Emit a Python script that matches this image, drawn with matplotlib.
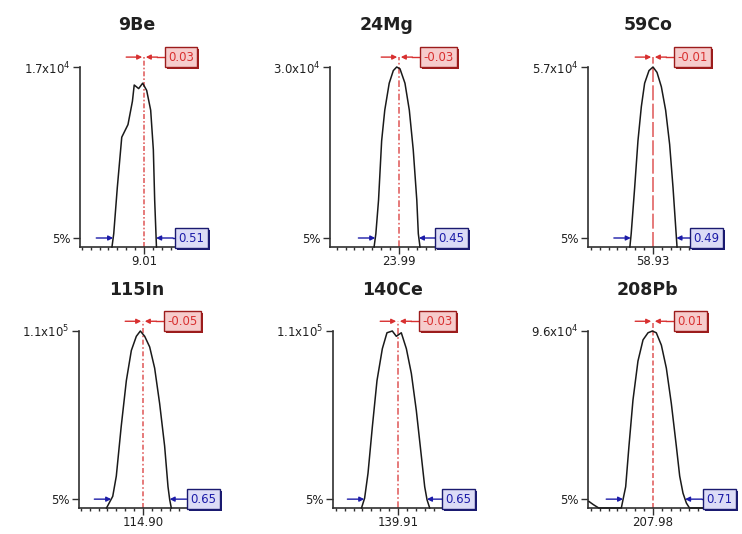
import numpy as np
import matplotlib
matplotlib.use("Agg")
import matplotlib.pyplot as plt
import matplotlib.transforms as mtransforms
from matplotlib.patches import Rectangle

plt.rcParams['font.family'] = ['DejaVu Sans']

# ---------------- data ----------------
elements = ['9Be', '24Mg', '59Co', '115In', '140Ce', '208Pb']
center_labels = ['9.01', '23.99', '58.93', '114.90', '139.91', '207.98']
ymax_values = [1.7e4, 3.0e4, 5.7e4, 1.1e5, 1.1e5, 9.6e4]
ymax_labels = [r'1.7x10$^4$', r'3.0x10$^4$', r'5.7x10$^4$',
               r'1.1x10$^5$', r'1.1x10$^5$', r'9.6x10$^4$']
shift_labels = ['0.03', '-0.03', '-0.01', '-0.05', '-0.03', '0.01']
width_labels = ['0.51', '0.45', '0.49', '0.65', '0.65', '0.71']

# peak profiles: offset from centre mass (amu), intensity as fraction of y max
be_x = [-0.36, -0.34, -0.30, -0.25, -0.18, -0.13, -0.11, -0.06, -0.015, 0.03, 0.075, 0.105, 0.12, 0.14]
be_y = [0.0, 0.074, 0.33, 0.61, 0.68, 0.81, 0.90, 0.88, 0.91, 0.87, 0.76, 0.54, 0.26, 0.0]
mg_x = [-0.28, -0.26, -0.23, -0.195, -0.16, -0.11, -0.064, -0.026, 0.011, 0.067, 0.116, 0.16, 0.20, 0.217, 0.236]
mg_y = [0.0, 0.074, 0.26, 0.59, 0.76, 0.91, 0.98, 1.0, 0.99, 0.91, 0.76, 0.54, 0.26, 0.074, 0.0]
co_x = [-0.26, -0.245, -0.206, -0.169, -0.131, -0.094, -0.045, 0.0, 0.045, 0.094, 0.142, 0.187, 0.225, 0.255, 0.27]
co_y = [0.0, 0.074, 0.33, 0.59, 0.78, 0.91, 0.98, 1.0, 0.97, 0.89, 0.76, 0.57, 0.33, 0.11, 0.0]
in_x = [-0.41, -0.34, -0.30, -0.245, -0.187, -0.131, -0.075, -0.03, 0.019, 0.075, 0.131, 0.187, 0.243, 0.281, 0.30, 0.318]
in_y = [0.0, 0.066, 0.18, 0.46, 0.72, 0.89, 0.97, 1.0, 0.97, 0.91, 0.79, 0.59, 0.35, 0.12, 0.047, 0.0]
ce_x = [-0.41, -0.375, -0.337, -0.288, -0.236, -0.176, -0.124, -0.064, -0.019, 0.037, 0.094, 0.15, 0.206, 0.251, 0.30, 0.326, 0.356]
ce_y = [0.0, 0.056, 0.196, 0.46, 0.72, 0.90, 0.99, 1.0, 0.97, 0.99, 0.90, 0.76, 0.55, 0.345, 0.12, 0.047, 0.0]
pb_x = [-0.72, -0.67, -0.61, -0.356, -0.337, -0.307, -0.27, -0.225, -0.169, -0.112, -0.056, -0.007, 0.037, 0.094, 0.15, 0.206, 0.262, 0.30, 0.337, 0.375, 0.41, 0.56]
pb_y = [0.037, 0.019, 0.0, 0.0, 0.047, 0.12, 0.35, 0.61, 0.83, 0.95, 0.99, 1.0, 0.99, 0.92, 0.79, 0.59, 0.35, 0.18, 0.084, 0.028, 0.0, 0.0]
peaks_x = [be_x, mg_x, co_x, in_x, ce_x, pb_x]
peaks_y = [be_y, mg_y, co_y, in_y, ce_y, pb_y]

# ---------------- layout (pixels) ----------------
W, H = 742, 534
PX_PER_AMU = 89.0
yaxis_px = [80, 330, 588, 79, 333, 588]
end_px = [175, 435, 690, 187, 442, 703]
center_px = [144, 399, 653, 143, 398, 653]
bottom_px = [247, 247, 247, 508, 508, 508]
top_px = [67, 67, 67, 331, 331, 331]
title_px = [(137, 25), (387, 25), (648, 25), (137, 290), (392, 290), (647, 290)]
red_styles = [(0, (3, 1.2, 1, 1.2)), (0, (4, 1.5, 1, 1.5)), (0, (9, 2)),
              (0, (3, 1.5, 1, 1.5)), (0, (4, 1.5, 1, 1.5)), (0, (3, 1.5))]

RED = '#d83030'
RED_EDGE = '#9c1c1c'
RED_FILL = '#f6cccc'
BLUE = '#1c1ca8'
BLUE_EDGE = '#1a1a70'
BLUE_FILL = '#dcdcf6'
AXC = '#303030'

fig = plt.figure(figsize=(W / 100, H / 100), dpi=100)
fig.patch.set_facecolor('white')

boxes = []


def boxed(ax, x, y, s, tc, fc, ec):
    t = ax.text(x, y, s, ha='left', va='center', fontsize=8.5, color=tc,
                clip_on=False, zorder=6,
                bbox=dict(boxstyle='square,pad=0.28', fc=fc, ec=ec, lw=1.0))
    boxes.append((ax, t, ec))


for i in range(6):
    left = yaxis_px[i] / W
    bottom = 1 - bottom_px[i] / H
    width = (end_px[i] - yaxis_px[i]) / W
    height = (bottom_px[i] - top_px[i]) / H
    ax = fig.add_axes([left, bottom, width, height])
    ax.set_facecolor('none')
    M = ymax_values[i]
    x0 = (yaxis_px[i] - center_px[i]) / PX_PER_AMU
    x1 = (end_px[i] - center_px[i]) / PX_PER_AMU
    ax.set_xlim(x0, x1)
    ax.set_ylim(0, M)

    px = np.array(peaks_x[i])
    py = np.array(peaks_y[i]) * M
    ax.plot(px, py, color='#1a1a1a', lw=1.1, zorder=3, clip_on=False)

    # red centre line and arrows
    ytop = 1.055 * M
    ax.plot([0, 0], [0, ytop], color=RED, lw=1.2, alpha=0.75,
            linestyle=red_styles[i], zorder=2, clip_on=False)
    ap_r = dict(arrowstyle='-|>', color=RED, lw=1.0, mutation_scale=7,
                shrinkA=0, shrinkB=0)
    ax.annotate('', xy=(-0.02, ytop), xytext=(-0.20, ytop), arrowprops=ap_r,
                annotation_clip=False, zorder=4)
    ax.annotate('', xy=(0.02, ytop), xytext=(0.15, ytop), arrowprops=ap_r,
                annotation_clip=False, zorder=4)
    rb = 22 / PX_PER_AMU
    ax.plot([0.15, rb], [ytop, ytop], color=RED, lw=1.0, clip_on=False, zorder=4)
    boxed(ax, rb + 0.025, ytop, shift_labels[i], RED, RED_FILL, RED_EDGE)

    # blue 5% width arrows
    lvl = 0.05 * M
    yy = np.array(peaks_y[i])
    ipk = int(np.argmax(yy))
    lx = np.interp(0.05, yy[:ipk + 1], px[:ipk + 1])
    rx = np.interp(0.05, yy[ipk:][::-1], px[ipk:][::-1])
    ap_b = dict(arrowstyle='-|>', color=BLUE, lw=1.0, mutation_scale=7,
                shrinkA=0, shrinkB=0)
    ax.annotate('', xy=(lx, lvl), xytext=(lx - 0.19, lvl), arrowprops=ap_b,
                annotation_clip=False, zorder=4)
    ax.annotate('', xy=(rx, lvl), xytext=(rx + 0.19, lvl), arrowprops=ap_b,
                annotation_clip=False, zorder=4)
    ax.plot([rx + 0.19, x1], [lvl, lvl], color=BLUE, lw=1.0, clip_on=False, zorder=4)
    boxed(ax, x1 + 0.04, lvl, width_labels[i], BLUE, BLUE_FILL, BLUE_EDGE)

    # axes styling
    for s in ['top', 'right']:
        ax.spines[s].set_visible(False)
    ax.spines['left'].set_color(AXC)
    ax.spines['bottom'].set_color(AXC)
    ax.spines['left'].set_linewidth(1.2)
    ax.spines['bottom'].set_linewidth(1.2)
    ax.set_yticks([0.05 * M, M])
    ax.set_yticklabels(['5%', ymax_labels[i]])
    ax.tick_params(axis='y', direction='out', length=5, width=1.0, color=AXC,
                   labelsize=8.5, pad=2, labelcolor='#202020')
    ax.set_xticks([0.0])
    ax.set_xticklabels([center_labels[i]])
    minor = np.arange(np.ceil(x0 * 10) / 10, x1 + 1e-9, 0.1)
    ax.set_xticks(minor, minor=True)
    ax.tick_params(axis='x', which='major', direction='out', length=5, width=1.0,
                   color=AXC, labelsize=8.5, pad=1, labelcolor='#202020')
    ax.tick_params(axis='x', which='minor', direction='out', length=2.5, width=1.0,
                   color=AXC)

    tx, ty = title_px[i]
    fig.text(tx / W, 1 - ty / H, elements[i], ha='center', va='center',
             fontsize=12.5, fontweight='bold', color='#202020')

# drop shadows behind the value boxes
fig.canvas.draw()
for ax, t, ec in boxes:
    bb = t.get_bbox_patch().get_window_extent()
    shadow = Rectangle((bb.x0 + 2, bb.y0 - 2), bb.width, bb.height,
                       transform=mtransforms.IdentityTransform(),
                       fc=ec, ec='none', zorder=5, clip_on=False)
    ax.add_artist(shadow)

fig.savefig('out.png', dpi=100, facecolor='white')
